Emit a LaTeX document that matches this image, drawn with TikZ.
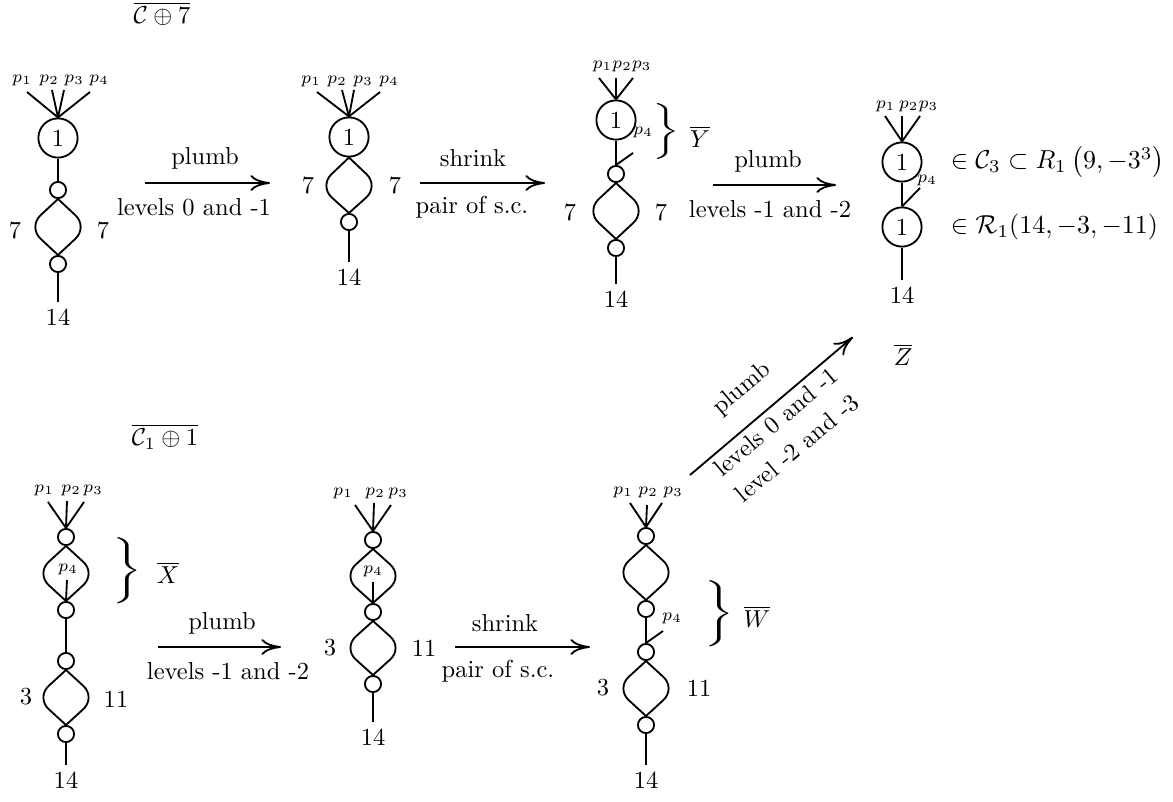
\documentclass[tikz,border=0pt]{standalone}
\usepackage{amsmath,amssymb}
\usetikzlibrary{arrows.meta}
\begin{document}
\begin{tikzpicture}[x=0.408pt,y=-0.408pt, line width=0.75pt,
  bigc/.style={circle,draw,minimum size=16pt,inner sep=0pt},
  smc/.style={circle,draw,minimum size=6.6pt,inner sep=0pt},
  plab/.style={font=\scriptsize,inner sep=0pt},
  num/.style={anchor=north,inner sep=2.4pt},
  side/.style={inner sep=0pt},
  arr/.style={-{Computer Modern Rightarrow[length=8pt,width=6.5pt]}},
  dia/.style={rounded corners=7pt},
  brc/.style={inner sep=0pt,xscale=1.5}]
\useasboundingbox (0,0) rectangle (1173,801);

% ---------- titles ----------
\node (t1) at (162,14) {$\overline{\mathcal{C}\oplus 7}$};
\node (t2) at (165,437) {$\overline{\mathcal{C}_1\oplus 1}$};

% ---------- diagram 1 ----------
\node[bigc] (d1c) at (58,138) {1};
\coordinate (d1l1) at (27,92); \coordinate (d1l2) at (52,90);
\coordinate (d1l3) at (64,90); \coordinate (d1l4) at (90,92);
\foreach \i in {1,...,4} \draw (d1l\i) -- (d1c.north);
\node[plab] (d1p1) at (22,80) {$p_1$};
\node[plab] (d1p2) at (49,80) {$p_2$};
\node[plab] (d1p3) at (74,80) {$p_3$};
\node[plab] (d1p4) at (99,80) {$p_4$};
\node[smc] (d1s1) at (58,190) {};
\node[smc] (d1s2) at (58,264) {};
\draw (d1c) -- (d1s1);
\draw[dia] (d1s1.south) -- (28,227) -- (d1s2.north);
\draw[dia] (d1s1.south) -- (88,227) -- (d1s2.north);
\node[num] (d1n) at (58,302) {14};
\draw (d1s2) -- (d1n);
\node[side] (d1a) at (15,230) {7};
\node[side] (d1b) at (103,230) {7};

% ---------- arrow 1 ----------
\coordinate (a1s) at (145,183); \coordinate (a1e) at (270,183);
\draw[arr] (a1s) -- (a1e);
\node (a1t) at (205,158) {plumb};
\node (a1b) at (194,207) {levels 0 and -1};

% ---------- diagram 2 ----------
\node[bigc] (d2c) at (349,137) {1};
\coordinate (d2l1) at (317,92); \coordinate (d2l2) at (342,90);
\coordinate (d2l3) at (354,90); \coordinate (d2l4) at (380,92);
\foreach \i in {1,...,4} \draw (d2l\i) -- (d2c.north);
\node[plab] (d2p1) at (311,81) {$p_1$};
\node[plab] (d2p2) at (337,81) {$p_2$};
\node[plab] (d2p3) at (363,81) {$p_3$};
\node[plab] (d2p4) at (389,81) {$p_4$};
\node[smc] (d2s1) at (349,222) {};
\draw[dia] (d2c.south) -- (319,186) -- (d2s1.north);
\draw[dia] (d2c.south) -- (379,186) -- (d2s1.north);
\node[num] (d2n) at (349,262) {14};
\draw (d2s1) -- (d2n);
\node[side] (d2a) at (308,185) {7};
\node[side] (d2b) at (395,185) {7};

% ---------- arrow 2 ----------
\coordinate (a2s) at (420,183); \coordinate (a2e) at (545,183);
\draw[arr] (a2s) -- (a2e);
\node (a2t) at (473,158) {shrink};
\node (a2b) at (472,207) {pair of s.c.};

% ---------- diagram 3 ----------
\node[bigc] (d3c) at (616,120) {1};
\coordinate (d3l1) at (599,78); \coordinate (d3l2) at (616,78);
\coordinate (d3l3) at (633,78);
\foreach \i in {1,...,3} \draw (d3l\i) -- (d3c.north);
\node[plab] (d3p) at (622,66) {$p_1p_2p_3$};
\node[smc] (d3s1) at (616,174) {};
\node[smc] (d3s2) at (616,248) {};
\draw (d3c) -- (d3s1);
\node[plab] (d3p4) at (643,132) {$p_4$};
\coordinate (d3q) at (633,153);
\draw (d3q) -- (d3s1.north);
\draw[dia] (d3s1.south) -- (586,211) -- (d3s2.north);
\draw[dia] (d3s1.south) -- (646,211) -- (d3s2.north);
\node[num] (d3n) at (616,284) {14};
\draw (d3s2) -- (d3n);
\node[side] (d3a) at (570,212) {7};
\node[side] (d3b) at (661,212) {7};
\node[brc,yscale=0.95] (d3br) at (666,132) {$\biggr\}$};
\node (d3y) at (700,137) {$\overline{Y}$};

% ---------- arrow 3 ----------
\coordinate (a3s) at (713,185); \coordinate (a3e) at (836,185);
\draw[arr] (a3s) -- (a3e);
\node (a3t) at (768,161) {plumb};
\node (a3b) at (770,209) {levels -1 and -2};

% ---------- diagram 4 ----------
\node[bigc] (d4c1) at (902,162) {1};
\node[bigc] (d4c2) at (902,227) {1};
\coordinate (d4l1) at (885,116); \coordinate (d4l2) at (902,116);
\coordinate (d4l3) at (920,116);
\foreach \i in {1,...,3} \draw (d4l\i) -- (d4c1.north);
\node[plab] (d4p) at (907,106) {$p_1\,p_2p_3$};
\draw (d4c1) -- (d4c2);
\node[plab] (d4p4) at (927,180) {$p_4$};
\coordinate (d4q) at (920,188);
\draw (d4q) -- (d4c2.north);
\node[num] (d4n) at (902,280) {14};
\draw (d4c2) -- (d4n);
\node[anchor=west,inner sep=0pt,scale=1.06] (d4t1) at (950,162) {$\in\mathcal{C}_3\subset R_1\left(9,-3^3\right)$};
\node[anchor=west,inner sep=0pt,scale=1.06] (d4t2) at (950,227) {$\in\mathcal{R}_1(14,-3,-11)$};
\node (d4z) at (903,355) {$\overline{Z}$};

% ---------- diagram 5 ----------
\node[smc] (d5s1) at (66,537) {};
\coordinate (d5l1) at (48,502); \coordinate (d5l2) at (67,501);
\coordinate (d5l3) at (84,502);
\foreach \i in {1,...,3} \draw (d5l\i) -- (d5s1.north);
\node[plab] (d5p1) at (44,490) {$p_1$};
\node[plab] (d5p2) at (71,490) {$p_2$};
\node[plab] (d5p3) at (93,490) {$p_3$};
\node[smc] (d5s2) at (66,610) {};
\draw[dia] (d5s1.south) -- (36,573.5) -- (d5s2.north);
\draw[dia] (d5s1.south) -- (96,573.5) -- (d5s2.north);
\node[plab] (d5p4) at (68,569) {$p_4$};
\coordinate (d5q) at (67,580);
\draw (d5q) -- (d5s2.north);
\node[smc] (d5s3) at (66,661) {};
\draw (d5s2) -- (d5s3);
\node[smc] (d5s4) at (66,734) {};
\draw[dia] (d5s3.south) -- (36,697.5) -- (d5s4.north);
\draw[dia] (d5s3.south) -- (96,697.5) -- (d5s4.north);
\node[num] (d5n) at (66,765) {14};
\draw (d5s4) -- (d5n);
\node[side] (d5a) at (26,697) {3};
\node[side] (d5b) at (116,699) {11};
\node[brc,yscale=0.9] (d5br) at (127,571) {$\Biggr\}$};
\node (d5x) at (168,573) {$\overline{X}$};

% ---------- arrow 5 ----------
\coordinate (a5s) at (158,647); \coordinate (a5e) at (281,647);
\draw[arr] (a5s) -- (a5e);
\node (a5t) at (222,623) {plumb};
\node (a5b) at (228,671) {levels -1 and -2};

% ---------- diagram 6 ----------
\node[smc] (d6s1) at (373,540) {};
\coordinate (d6l1) at (355,505); \coordinate (d6l2) at (374,503);
\coordinate (d6l3) at (391,505);
\foreach \i in {1,...,3} \draw (d6l\i) -- (d6s1.north);
\node[plab] (d6p1) at (343,493) {$p_1$};
\node[plab] (d6p2) at (375,493) {$p_2$};
\node[plab] (d6p3) at (398,493) {$p_3$};
\node[smc] (d6s2) at (373,612) {};
\draw[dia] (d6s1.south) -- (343,576) -- (d6s2.north);
\draw[dia] (d6s1.south) -- (403,576) -- (d6s2.north);
\node[plab] (d6p4) at (373,571) {$p_4$};
\coordinate (d6q) at (373,582);
\draw (d6q) -- (d6s2.north);
\node[smc] (d6s3) at (373,684) {};
\draw[dia] (d6s2.south) -- (343,648) -- (d6s3.north);
\draw[dia] (d6s2.south) -- (403,648) -- (d6s3.north);
\node[num] (d6n) at (373,722) {14};
\draw (d6s3) -- (d6n);
\node[side] (d6a) at (330,648) {3};
\node[side] (d6b) at (424,648) {11};

% ---------- arrow 6 ----------
\coordinate (a6s) at (455,647); \coordinate (a6e) at (590,647);
\draw[arr] (a6s) -- (a6e);
\node (a6t) at (505,623) {shrink};
\node (a6b) at (498,671) {pair of s.c.};

% ---------- diagram 7 ----------
\node[smc] (d7s1) at (646,536) {};
\coordinate (d7l1) at (630,503); \coordinate (d7l2) at (647,505);
\coordinate (d7l3) at (662,503);
\foreach \i in {1,...,3} \draw (d7l\i) -- (d7s1.north);
\node[plab] (d7p1) at (623,492) {$p_1$};
\node[plab] (d7p2) at (648,492) {$p_2$};
\node[plab] (d7p3) at (673,492) {$p_3$};
\node[smc] (d7s2) at (646,609) {};
\draw[dia] (d7s1.south) -- (616,572.5) -- (d7s2.north);
\draw[dia] (d7s1.south) -- (676,572.5) -- (d7s2.north);
\node[smc] (d7s3) at (646,652) {};
\draw (d7s2) -- (d7s3);
\node[plab] (d7p4) at (672,618) {$p_4$};
\coordinate (d7q) at (663,631);
\draw (d7q) -- (d7s3.north);
\node[smc] (d7s4) at (646,725) {};
\draw[dia] (d7s3.south) -- (616,688.5) -- (d7s4.north);
\draw[dia] (d7s3.south) -- (676,688.5) -- (d7s4.north);
\node[num] (d7n) at (646,765) {14};
\draw (d7s4) -- (d7n);
\node[side] (d7a) at (603,688) {3};
\node[side] (d7b) at (699,688) {11};
\node[brc,yscale=0.9] (d7br) at (719,614) {$\Biggr\}$};
\node (d7w) at (757,617) {$\overline{W}$};

% ---------- diagonal arrow ----------
\coordinate (a7s) at (690,475); \coordinate (a7e) at (853,337);
\draw[arr] (a7s) -- (a7e);
\node[rotate=40] (a7t) at (742,389) {plumb};
\node[rotate=40] (a7b) at (776,422) {levels 0 and -1};
\node[rotate=40] (a7c) at (797,448) {level -2 and -3};
\end{tikzpicture}
\end{document}
